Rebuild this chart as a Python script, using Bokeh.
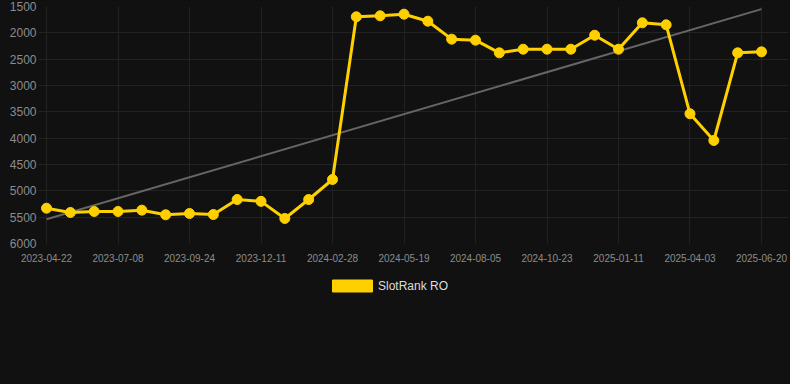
from bokeh.plotting import figure
from bokeh.models import Range1d, Legend, LegendItem, FixedTicker, ColumnDataSource
from bokeh.layouts import column
from bokeh.embed import file_html
from bokeh.resources import INLINE

# data
idx = list(range(31))
rank = [5330, 5411, 5392, 5392, 5367, 5455, 5430, 5450, 5165, 5200,
        5525, 5165, 4785, 1696, 1677, 1646, 1779, 2120, 2139, 2380,
        2311, 2311, 2311, 2045, 2311, 1810, 1848, 3537, 4044, 2380, 2361]
tick_idx = [0, 3, 6, 9, 12, 15, 18, 21, 24, 27, 30]
tick_labels = ["2023-04-22", "2023-07-08", "2023-09-24", "2023-12-11", "2024-02-28",
               "2024-05-19", "2024-08-05", "2024-10-23", "2025-01-11", "2025-04-03", "2025-06-20"]
trend_x = [0, 30]
trend_y = [5540, 1550]
y_ticks = [1500, 2000, 2500, 3000, 3500, 4000, 4500, 5000, 5500, 6000]
series_name = "SlotRank RO"

BG = "#111111"
YEL = "#FFD000"
FONT = "Liberation Sans"

p = figure(width=790, height=270, output_backend="svg", toolbar_location=None,
           x_range=Range1d(-0.336, 31.133), y_range=Range1d(6000, 1500),
           min_border_left=38, min_border_right=2, min_border_top=6, min_border_bottom=27)
p.background_fill_color = BG
p.border_fill_color = BG
p.outline_line_color = None
p.styles = {"background-color": BG}

src = ColumnDataSource(dict(x=idx, y=rank))
p.line(x=trend_x, y=trend_y, line_color="#666666", line_width=2)
p.line("x", "y", source=src, line_color=YEL, line_width=3, line_join="round")
p.scatter("x", "y", source=src, size=10, fill_color=YEL, line_color=YEL)

p.xaxis.ticker = FixedTicker(ticks=tick_idx)
p.xaxis.major_label_overrides = {i: l for i, l in zip(tick_idx, tick_labels)}
p.yaxis.ticker = FixedTicker(ticks=y_ticks)
for ax in (p.xaxis[0], p.yaxis[0]):
    ax.axis_line_color = None
    ax.major_tick_line_color = None
    ax.minor_tick_line_color = None
    ax.major_tick_out = 0
    ax.major_tick_in = 0
    ax.major_label_text_font = FONT
    ax.major_label_text_color = "#8c8c8c"
p.xaxis.major_label_text_font_size = "10px"
p.xaxis.major_label_standoff = 10
p.yaxis.major_label_text_font_size = "12px"
p.yaxis.major_label_standoff = 2

p.xgrid.ticker = FixedTicker(ticks=tick_idx)
p.xgrid.grid_line_color = "#222222"
p.ygrid.grid_line_color = "#222222"

# legend strip
q = figure(width=790, height=114, output_backend="svg", toolbar_location=None,
           x_range=Range1d(0, 1), y_range=Range1d(0, 1),
           min_border_left=0, min_border_right=0, min_border_top=0, min_border_bottom=0)
q.background_fill_color = BG
q.border_fill_color = BG
q.outline_line_color = None
q.styles = {"background-color": BG}
q.axis.visible = False
q.grid.visible = False
dummy = q.quad(left=[5], right=[6], top=[6], bottom=[5], fill_color=YEL, line_color=YEL)
legend = Legend(items=[LegendItem(label=series_name, renderers=[dummy])],
                location=(289, 91), orientation="horizontal",
                background_fill_alpha=0, border_line_color=None,
                glyph_width=50, glyph_height=15,
                label_text_font=FONT, label_text_font_size="12px", label_text_color="#dddddd",
                margin=0, padding=4, label_standoff=1)
q.add_layout(legend, "center")

lay = column(p, q, spacing=0)
lay.styles = {"background-color": BG}
open("out.html", "w").write(file_html(lay, INLINE))
